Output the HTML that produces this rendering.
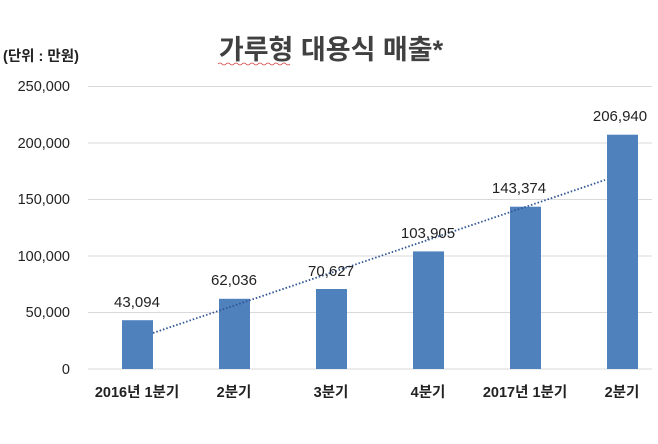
<!DOCTYPE html>
<html><head><meta charset="utf-8"><style>
body{margin:0;background:#fff;}
svg text{font-family:"Liberation Sans","Noto Sans CJK KR",sans-serif;}
</style></head><body>
<svg width="658" height="439" xmlns="http://www.w3.org/2000/svg">
<rect width="658" height="439" fill="#fff"/>
<text x="331" y="59" text-anchor="middle" font-size="27" font-weight="bold" fill="#404040">가루형 대용식 매출*</text>
<path d="M218 64 q2 -2 4 0 t4 0 t4 0 t4 0 t4 0 t4 0 t4 0 t4 0 t4 0 t4 0 t4 0 t4 0 t4 0 t4 0 t4 0 t4 0 t4 0 t4 0" stroke="#d04040" stroke-width="0.8" fill="none"/>
<text x="3" y="61" font-size="14.5" font-weight="bold" fill="#222">(단위 : 만원)</text>
<g stroke="#d9d9d9" stroke-width="1">
<line x1="88" y1="86.5" x2="652" y2="86.5"/>
<line x1="88" y1="143" x2="652" y2="143"/>
<line x1="88" y1="199.5" x2="652" y2="199.5"/>
<line x1="88" y1="256" x2="652" y2="256"/>
<line x1="88" y1="312.5" x2="652" y2="312.5"/>
<line x1="88" y1="369" x2="652" y2="369"/>
</g>
<g font-size="14.5" fill="#222" text-anchor="end">
<text x="70" y="91">250,000</text>
<text x="70" y="148">200,000</text>
<text x="70" y="204">150,000</text>
<text x="70" y="261">100,000</text>
<text x="70" y="317">50,000</text>
<text x="70" y="374">0</text>
</g>
<g fill="#4f81bd">
<rect x="122" y="320.2" width="31" height="48.8"/>
<rect x="219" y="298.8" width="31" height="70.2"/>
<rect x="316" y="289" width="31" height="80"/>
<rect x="413" y="251.4" width="31" height="117.6"/>
<rect x="510" y="206.7" width="31" height="162.3"/>
<rect x="607" y="134.7" width="31" height="234.3"/>
</g>
<line x1="153" y1="333" x2="605" y2="180" stroke="#2f5597" stroke-width="1.8" stroke-dasharray="1.5 2"/>
<g font-size="15" fill="#222" text-anchor="middle">
<text x="137" y="307">43,094</text>
<text x="234" y="285">62,036</text>
<text x="331" y="276">70,627</text>
<text x="428" y="238">103,905</text>
<text x="519" y="193">143,374</text>
<text x="620" y="121">206,940</text>
</g>
<g font-size="14.5" font-weight="bold" fill="#222" text-anchor="middle">
<text x="137" y="397">2016년 1분기</text>
<text x="234" y="397">2분기</text>
<text x="331" y="397">3분기</text>
<text x="428" y="397">4분기</text>
<text x="525" y="397">2017년 1분기</text>
<text x="622" y="397">2분기</text>
</g>
</svg>
</body></html>
